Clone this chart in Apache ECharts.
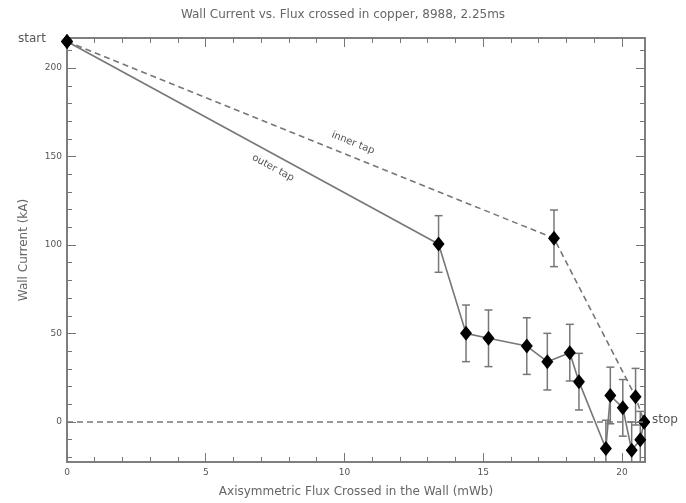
<!DOCTYPE html>
<html><head><meta charset="utf-8">
<script src="https://cdn.jsdelivr.net/npm/echarts@6/dist/echarts.min.js"></script>
<style>html,body{margin:0;padding:0;background:#fff}#c{width:686px;height:503px}</style>
</head><body><div id="c"></div>
<script>
var titleText = 'Wall Current vs. Flux crossed in copper, 8988, 2.25ms';
var xName = 'Axisymmetric Flux Crossed in the Wall (mWb)';
var yName = 'Wall Current (kA)';
var xTicks = [0, 5, 10, 15, 20];
var yTicks = [0, 50, 100, 150, 200];
var xMinor = [1,2,3,4,6,7,8,9,11,12,13,14,16,17,18,19];
var yMinor = [-20,-10,10,20,30,40,60,70,80,90,110,120,130,140,160,170,180,190,210];
var xRange = [0, 20.83];
var yRange = [-22.6, 217];

// solid line ("outer tap")
var solidX = [0, 13.39, 14.38, 15.19, 16.57, 17.31, 18.12, 18.45, 19.42, 19.58, 20.03, 20.35, 20.66, 20.8];
var solidY = [215, 100.6, 50.1, 47.3, 42.9, 34.1, 39.2, 22.8, -15, 15, 8, -16, -10, 0];
var solidErr = [0, 16, 16, 16, 16, 16, 16, 16, 16, 16, 16, 16, 16, 0];
// dashed line ("inner tap")
var dashX = [0, 17.55, 20.49, 20.8];
var dashY = [215, 103.8, 14.3, 0];
var dashErr = [0, 16, 16, 0];

var grey = '#777';
function pts(xs, ys){ return xs.map(function(x,i){ return [x, ys[i]]; }); }
function errPts(xs, ys, es){ var r=[]; xs.forEach(function(x,i){ if(es[i]>0) r.push([x, ys[i]-es[i], ys[i]+es[i]]); }); return r; }

function errRender(params, api){
  var x = api.value(0), lo = api.value(1), hi = api.value(2);
  var p1 = api.coord([x, lo]), p2 = api.coord([x, hi]);
  var w = 4;
  var st = {stroke: grey, lineWidth: 1.5};
  return {type:'group', children:[
    {type:'line', shape:{x1:p1[0], y1:p1[1], x2:p2[0], y2:p2[1]}, style:st},
    {type:'line', shape:{x1:p1[0]-w, y1:p1[1], x2:p1[0]+w, y2:p1[1]}, style:st},
    {type:'line', shape:{x1:p2[0]-w, y1:p2[1], x2:p2[0]+w, y2:p2[1]}, style:st}
  ]};
}

function xAx(pos, labels, vals, len){
  return {type:'value', position:pos, min:xRange[0], max:xRange[1],
    splitLine:{show:false}, axisLine:{show:true, onZero:false, lineStyle:{color:grey, width:1.5}},
    axisTick:{show:true, inside:true, length:len, customValues:vals, lineStyle:{color:grey}},
    axisLabel:{show:labels, customValues:xTicks, color:'#555', fontSize:9, margin:6, fontFamily:'DejaVu Sans'},
    name: labels ? xName : '', nameLocation:'middle', nameGap:24,
    nameTextStyle:{color:'#666', fontSize:12, fontFamily:'DejaVu Sans'}};
}
function yAx(pos, labels, vals, len){
  return {type:'value', position:pos, min:yRange[0], max:yRange[1],
    splitLine:{show:false}, axisLine:{show:true, onZero:false, lineStyle:{color:grey, width:1.5}},
    axisTick:{show:true, inside:true, length:len, customValues:vals, lineStyle:{color:grey}},
    axisLabel:{show:labels, customValues:yTicks, color:'#555', fontSize:9, margin:5, fontFamily:'DejaVu Sans'},
    name: labels ? yName : '', nameLocation:'middle', nameGap:37,
    nameTextStyle:{color:'#666', fontSize:12, fontFamily:'DejaVu Sans'}};
}

var chart = echarts.init(document.getElementById('c'), null, {renderer:'canvas'});
chart.setOption({
  animation:false,
  backgroundColor:'#fff',
  title:{text:titleText, left:'center', top:4, textStyle:{color:'#666', fontSize:12, fontWeight:'normal', fontFamily:'DejaVu Sans'}},
  grid:{left:67, right:41, top:38, bottom:41},
  xAxis:[xAx('bottom', true, xTicks, 9), xAx('bottom', false, xMinor, 5), xAx('top', false, xTicks, 9), xAx('top', false, xMinor, 5)],
  yAxis:[yAx('left', true, yTicks, 9), yAx('left', false, yMinor, 5), yAx('right', false, yTicks, 9), yAx('right', false, yMinor, 5)],
  series:[
    {type:'custom', renderItem:errRender, data:errPts(solidX, solidY, solidErr), clip:true, z:2},
    {type:'custom', renderItem:errRender, data:errPts(dashX, dashY, dashErr), clip:true, z:2},
    {type:'line', data:pts(solidX, solidY), symbol:'diamond', symbolSize:[12,15], clip:false,
      lineStyle:{color:grey, width:1.6}, itemStyle:{color:'#000'}, z:3,
      markLine:{silent:true, symbol:'none', label:{show:false}, lineStyle:{color:grey, type:[6,4], width:1.5},
        data:[{yAxis:0}]}},
    {type:'line', data:pts(dashX, dashY), symbol:'diamond', symbolSize:[12,15], clip:false,
      lineStyle:{color:grey, width:1.6, type:[6,4]}, itemStyle:{color:'#000'}, z:3}
  ],
  graphic:[
    {type:'text', left:18, top:33, style:{text:'start', fill:'#555', font:'12px "DejaVu Sans"'}},
    {type:'text', left:652, top:414, style:{text:'stop', fill:'#555', font:'12px "DejaVu Sans"'}},
    {type:'text', x:353, y:143, rotation:-21.9*Math.PI/180, style:{text:'inner tap', fill:'#555', font:'10px "DejaVu Sans"', align:'center', verticalAlign:'middle'}},
    {type:'text', x:273, y:168, rotation:-28.5*Math.PI/180, style:{text:'outer tap', fill:'#555', font:'10px "DejaVu Sans"', align:'center', verticalAlign:'middle'}}
  ]
});
</script></body></html>
